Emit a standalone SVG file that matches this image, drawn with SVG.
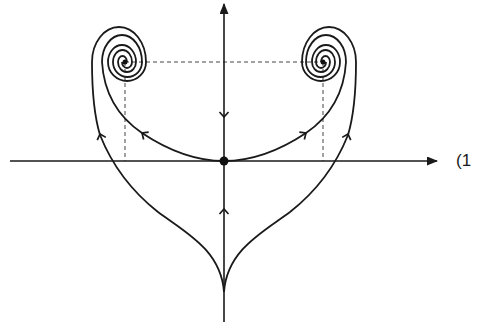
<svg xmlns="http://www.w3.org/2000/svg" width="481" height="327" viewBox="0 0 481 327">
<style>
.ax{stroke:#1a1a1a;stroke-width:1.6;fill:none}
.cv{stroke:#1a1a1a;stroke-width:1.8;fill:none}
.ds{stroke:#444;stroke-width:1;stroke-dasharray:4 3;fill:none}
.ch{stroke:#1a1a1a;stroke-width:1.7;fill:none}
.lb{font-family:"Liberation Sans",Arial,sans-serif;font-size:17px;fill:#1a1a1a}
</style>
<defs>
<path id="chev" d="M-4.5,5 L0,0 L4.5,5"/>
<marker id="ah" markerWidth="11" markerHeight="9" refX="10" refY="4.5" orient="auto" markerUnits="userSpaceOnUse">
<path d="M0,0 L11,4.5 L0,9 Z" fill="#1a1a1a"/>
</marker>
</defs>
<g id="guides">
<path class="ds" d="M125,62 H323 M125,62 V161 M323,62 V161"/>
</g>
<g id="axes">
<path class="ax" d="M10,161 H437" marker-end="url(#ah)"/>
<path class="ax" d="M224,322 V4" marker-end="url(#ah)"/>
<use href="#chev" class="ch" transform="translate(224,117) rotate(180)"/>
<use href="#chev" class="ch" transform="translate(224,209)"/>
<text class="lb" x="456" y="166">(1</text>
</g>
<g id="connectors">
<g id="left-half">
<path class="cv" d="M224,292 C221,250 185,232 158,212 C130,190 112,165 100,135 C94,115 92,85 92,62 A27,35 0 0 1 146,62 A19,19 0 0 1 108,62 A14,17 0 0 1 136,62 A9,10 0 0 1 118,62 A4.5,6 0 0 1 127,62"/>
<path class="cv" d="M224,161 C200,161 172,153 142,133 C120,118 104,95 102,62 A20,27 0 0 1 142,62 A14.5,15 0 0 1 113,62 A9.5,12 0 0 1 132,62 A5,6 0 0 1 122,62"/>
<use href="#chev" class="ch" transform="translate(100,134) rotate(-18)"/>
<use href="#chev" class="ch" transform="translate(142,133) rotate(-56)"/>
</g>
<g id="right-half" transform="translate(448,0) scale(-1,1)">
<path class="cv" d="M224,292 C221,250 185,232 158,212 C130,190 112,165 100,135 C94,115 92,85 92,62 A27,35 0 0 1 146,62 A19,19 0 0 1 108,62 A14,17 0 0 1 136,62 A9,10 0 0 1 118,62 A4.5,6 0 0 1 127,62"/>
<path class="cv" d="M224,161 C200,161 172,153 142,133 C120,118 104,95 102,62 A20,27 0 0 1 142,62 A14.5,15 0 0 1 113,62 A9.5,12 0 0 1 132,62 A5,6 0 0 1 122,62"/>
<use href="#chev" class="ch" transform="translate(100,134) rotate(-18)"/>
<use href="#chev" class="ch" transform="translate(142,133) rotate(-56)"/>
</g>
</g>
<g id="origin"><circle cx="224" cy="161" r="4.5" fill="#111"/></g>
<g id="focus-left"><circle cx="125" cy="62" r="2.5" fill="#111"/></g>
<g id="focus-right"><circle cx="323" cy="62" r="2.5" fill="#111"/></g>
</svg>
